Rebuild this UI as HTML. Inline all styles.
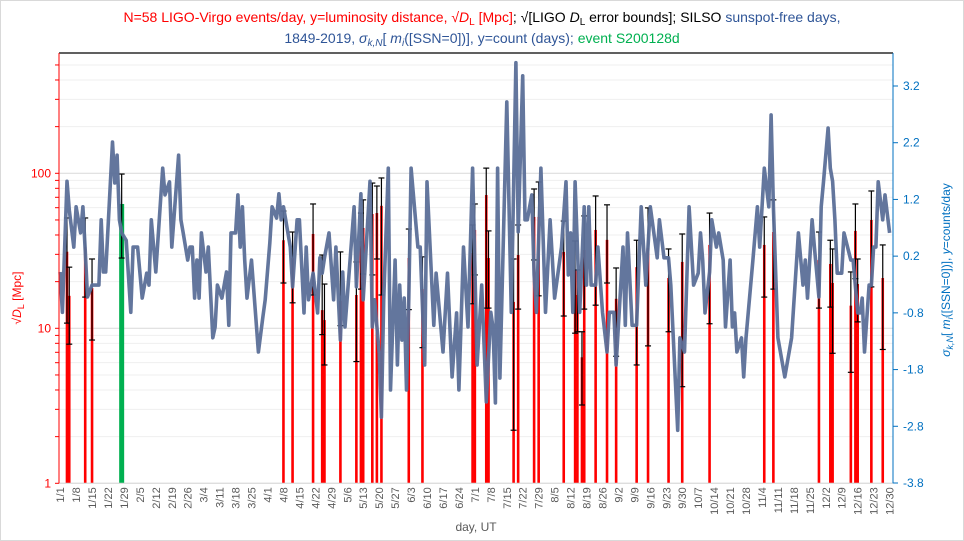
<!DOCTYPE html>
<html><head><meta charset="utf-8"><style>
html,body{margin:0;padding:0;background:#fff}
svg{display:block;font-family:"Liberation Sans",sans-serif}
</style></head><body>
<svg id="chart" width="964" height="541" viewBox="0 0 964 541" xmlns="http://www.w3.org/2000/svg">
<rect x="0.5" y="0.5" width="963" height="540" fill="#fff" stroke="#d9d9d9"/>
<g font-size="14" text-anchor="middle">
<text x="482" y="22"><tspan fill="#ff0000">N=58 LIGO-Virgo events/day, y=luminosity distance, √<tspan font-style="italic">D</tspan><tspan font-size="10" dy="3">L</tspan><tspan dy="-3"> [Mpc]</tspan></tspan><tspan fill="#000">; √[LIGO <tspan font-style="italic">D</tspan><tspan font-size="10" dy="3">L</tspan><tspan dy="-3"> error bounds]; SILSO </tspan></tspan><tspan fill="#2f5597">sunspot-free days,</tspan></text>
<text x="482" y="43"><tspan fill="#2f5597">1849-2019, <tspan font-style="italic">σ</tspan><tspan font-size="10" dy="3" font-style="italic">k,N</tspan><tspan dy="-3">[ </tspan><tspan font-style="italic">m</tspan><tspan font-size="10" dy="3" font-style="italic">i</tspan><tspan dy="-3">([SSN=0])], y=count (days); </tspan></tspan><tspan fill="#00b050">event  S200128d</tspan></text>
</g>
<g id="grid"></g>
<g id="bars"></g>
<g id="errs"></g>
<g id="line"></g>
<g id="axes"></g>
<text x="476" y="531" font-size="12" fill="#595959" text-anchor="middle">day, UT</text>
<text transform="translate(21,298) rotate(-90)" font-size="12" fill="#ff0000" text-anchor="middle">√<tspan font-style="italic">D</tspan><tspan font-size="9" dy="3">L</tspan><tspan dy="-3"> [Mpc]</tspan></text>
<text transform="translate(950,270) rotate(-90)" font-size="12" fill="#0070c0" text-anchor="middle"><tspan font-style="italic">σ</tspan><tspan font-size="9" dy="3" font-style="italic">k,N</tspan><tspan dy="-3">[ </tspan><tspan font-style="italic">m</tspan><tspan font-size="9" dy="3" font-style="italic">i</tspan><tspan dy="-3">([SSN=0])], </tspan><tspan font-style="italic">y</tspan>=counts/day</text>
</svg>
<script>
const eventDays=[3,4,11,14,27,98,102,111,115,116,123,130,132,133,137,139,141,153,159,181,182,187,188,199,201,208,210,221,226,227,229,230,235,240,244,253,258,267,273,285,309,313,333,338,339,347,349,350,356,361];
const eventVals=[31.2,16.2,33.4,18.2,63.4,37.0,28.4,40.6,13.1,11.3,15.0,16.4,36.6,44.4,54.6,55.4,61.7,28.4,17.9,30.6,43.1,72.4,28.4,14.8,29.7,52.3,52.3,31.1,23.8,16.4,6.5,32.0,43.1,37.2,15.5,24.8,33.0,21.1,26.8,34.5,34.5,41.8,27.6,26.0,19.6,14.0,42.5,19.3,50.0,21.1];
const eventLo=[10.8,7.9,15.9,8.4,28.4,19.6,14.6,16.4,9.1,5.8,10.4,6.1,17.9,22.4,22.1,28.0,16.4,13.2,7.5,14.4,22.1,13.5,13.5,2.2,13.3,27.6,16.2,12.0,9.3,9.5,3.2,13.3,14.1,19.6,6.6,5.8,7.7,9.5,4.2,10.7,15.9,17.9,13.5,13.7,6.9,5.2,20.9,11.0,18.5,7.3];
const eventHi=[51.5,24.8,51.5,28.0,98.9,57.1,41.8,63.4,29.7,19.3,31.1,26.8,55.4,67.4,86.5,82.8,93.3,43.7,28.9,46.4,63.4,108,42.5,28.0,46.4,79.2,87.9,49.2,36.6,23.8,9.5,53.1,71.4,62.6,24.5,37.0,59.8,32.5,40.6,55.4,52.3,67.4,41.8,37.0,32.5,23.1,63.4,28.0,76.9,34.5];
const highlightDay=27;
const sunDays=[0,1,3,4,6,7,9,10,11,12,14,17,18,19,20,23,24,25,26,27,29,31,32,34,36,38,39,40,42,45,46,48,49,52,53,54,56,57,58,59,60,61,62,64,65,67,68,69,71,73,74,75,77,78,79,80,81,82,84,87,89,90,92,93,95,96,97,98,101,102,104,105,107,108,109,111,113,114,115,116,118,120,121,123,124,125,129,130,132,133,136,137,138,140,141,142,144,145,147,148,149,150,151,152,153,154,157,158,160,161,164,165,168,170,172,174,175,177,179,181,183,185,187,189,190,191,192,193,196,198,200,201,203,204,205,207,208,209,211,213,215,217,220,222,223,224,225,226,228,230,231,232,233,235,236,238,240,241,243,244,247,248,249,251,253,255,257,259,262,263,265,267,268,271,272,274,276,278,280,281,282,283,285,286,288,289,291,292,294,295,296,297,299,300,301,304,306,307,309,311,312,313,315,318,321,324,326,327,328,330,331,333,334,335,337,338,339,340,341,343,344,347,348,350,351,352,353,355,356,357,358,359,361,362,364];
const sunVals=[-0.08,-0.79,1.52,1.01,0.36,1.07,0.61,1.07,0.31,-0.52,-0.31,-0.31,0.84,-0.08,-0.08,2.21,1.49,1.98,0.84,0.61,0.48,-0.79,0.36,0.36,-0.54,-0.10,-0.31,0.84,-0.08,1.75,1.28,1.51,0.36,1.98,0.84,0.61,0.13,0.36,0.36,-0.54,0.13,-0.54,0.61,-0.08,0.36,-1.24,-1.05,-0.31,-0.54,-0.08,-1.02,0.61,0.61,1.28,0.36,1.07,0.13,-0.54,0.13,-1.49,-0.87,-0.57,0.43,1.07,0.87,1.30,0.84,1.07,0.36,-0.34,0.84,0.84,-0.80,0.36,-0.57,-0.10,-0.80,0.17,-0.10,0.17,0.61,-0.57,0.36,-1.28,-0.08,-1.05,1.07,-0.34,1.30,-0.57,1.52,-1.05,-0.57,-1.51,-2.64,-0.57,1.75,-2.16,0.13,-1.72,-0.31,-1.28,-0.54,-2.16,-0.54,1.75,0.36,0.36,-1.72,1.51,-1.02,-0.10,-1.49,-0.10,-1.93,-0.80,-2.16,0.36,-1.05,1.75,-1.72,-0.31,-2.37,-0.79,-1.07,-2.39,1.75,-1.95,2.92,-0.79,3.61,0.63,3.38,0.84,0.84,1.28,-0.13,-0.79,1.75,-0.79,0.84,-0.54,0.36,1.51,-0.13,0.61,-0.79,1.51,-0.79,1.07,-0.31,1.07,-0.31,-0.31,0.36,-0.79,-1.49,-0.79,-0.79,-1.72,0.36,-1.02,0.61,-1.02,-1.02,1.07,-0.31,1.07,0.17,0.84,0.17,0.17,-0.31,-2.87,-1.24,-1.49,1.07,-0.31,-0.10,0.61,0.13,-0.80,-0.08,0.84,0.36,0.61,0.13,-1.05,0.13,-1.05,-0.80,-1.49,-1.24,-1.93,-1.24,0.13,1.07,0.36,1.75,1.07,2.69,1.07,-1.24,-1.93,-1.24,0.61,-0.31,0.13,-0.54,0.84,0.36,-0.52,1.07,1.51,2.46,1.75,1.52,0.84,-0.10,-0.10,0.61,0.13,0.13,-0.80,-0.80,-0.54,-1.49,-0.31,-0.31,0.36,0.36,1.51,0.84,1.28,0.61];
const leftTicks=["1","10","100"];
const rightTicks=["3.2","2.2","1.2","0.2","-0.8","-1.8","-2.8","-3.8"];
const monthLens=[31,29,31,30,31,30,31,31,30,31,30,31];

const NS="http://www.w3.org/2000/svg";
const X0=59,X1=893,Y0=53,YB=483.3,NDAYS=366;
const DEC=155;
function xDay(d){return X0+(d+0.5)*(X1-X0)/NDAYS;}
function yLog(v){return YB-Math.log10(v)*DEC;}
function yR(v){return 483-(v+3.8)*(397/7);}
function mk(parent,tag,attrs){const e=document.createElementNS(NS,tag);for(const k in attrs)e.setAttribute(k,attrs[k]);parent.appendChild(e);return e;}
const grid=document.getElementById('grid'),axes=document.getElementById('axes');
for(let dec=0;dec<3;dec++){for(let m=1;m<=9;m++){const v=m*Math.pow(10,dec);const y=yLog(v);if(y<Y0)continue;
 const g=mk(grid,'line',{x1:X0,x2:X1,y1:y,y2:y,stroke:m===1?'#d9d9d9':'#efefef','stroke-width':1});
 
 
 const t=mk(axes,'line',{x1:X0-4,x2:X0,y1:y,y2:y,stroke:'#ff0000','stroke-width':1});
 
 }}
const bars=document.getElementById('bars'),errs=document.getElementById('errs');
eventDays.forEach((d,i)=>{const x=xDay(d);const hl=d===highlightDay;const w=hl?5:2.6;
 const r=mk(bars,'rect',{x:x-w/2,y:yLog(eventVals[i]),width:w,height:YB-yLog(eventVals[i]),fill:hl?'#00b050':'#ff0000'});
 
 
 const g=mk(errs,'g',{stroke:'#000','stroke-width':1.2});
 
 
 const yh=yLog(eventHi[i]),yl=yLog(eventLo[i]);
 mk(g,'line',{x1:x,x2:x,y1:yh,y2:yl});
 mk(g,'line',{x1:x-3,x2:x+3,y1:yh,y2:yh});
 mk(g,'line',{x1:x-3,x2:x+3,y1:yl,y2:yl});});
let dpath='';sunDays.forEach((d,i)=>{dpath+=(i?'L':'M')+xDay(d).toFixed(1)+','+yR(sunVals[i]).toFixed(1);});
const p=mk(document.getElementById('line'),'path',{d:dpath,fill:'none',stroke:'#5b6f98','stroke-width':3.6,'stroke-linejoin':'round','stroke-opacity':0.95});


const topBorder=mk(axes,'line',{x1:X0,x2:X1,y1:Y0,y2:Y0,stroke:'#000','stroke-width':1.2});


const bot=mk(axes,'line',{x1:X0,x2:X1,y1:YB,y2:YB,stroke:'#d9d9d9','stroke-width':1});


const la=mk(axes,'line',{x1:X0,x2:X0,y1:Y0,y2:YB,stroke:'#ff0000','stroke-width':1});


const ra=mk(axes,'line',{x1:X1,x2:X1,y1:Y0,y2:YB,stroke:'#0070c0','stroke-width':1});


leftTicks.forEach((s,i)=>{const t=mk(axes,'text',{x:X0-8,y:yLog(Math.pow(10,i))+4,'font-size':12,fill:'#ff0000','text-anchor':'end'});t.textContent=s;
 
 });
rightTicks.forEach(s=>{const v=parseFloat(s),y=yR(v);
 const tk=mk(axes,'line',{x1:X1,x2:X1+5,y1:y,y2:y,stroke:'#0070c0','stroke-width':1});
 
 
 const t=mk(axes,'text',{x:X1+10,y:y+4,'font-size':12,fill:'#0070c0'});t.textContent=s;
 
 });
const starts=[];let acc=0;monthLens.forEach(m=>{starts.push(acc);acc+=m;});
for(let d=0;d<NDAYS;d+=7){let mo=0;while(mo<11&&starts[mo+1]<=d)mo++;const lab=(mo+1)+'/'+(d-starts[mo]+1);
 const x=xDay(d);
 const t=mk(axes,'text',{transform:'translate('+(x+4)+','+(YB+4)+') rotate(-90)','font-size':11,fill:'#595959','text-anchor':'end'});t.textContent=lab;
 
 }
</script>
</body></html>
